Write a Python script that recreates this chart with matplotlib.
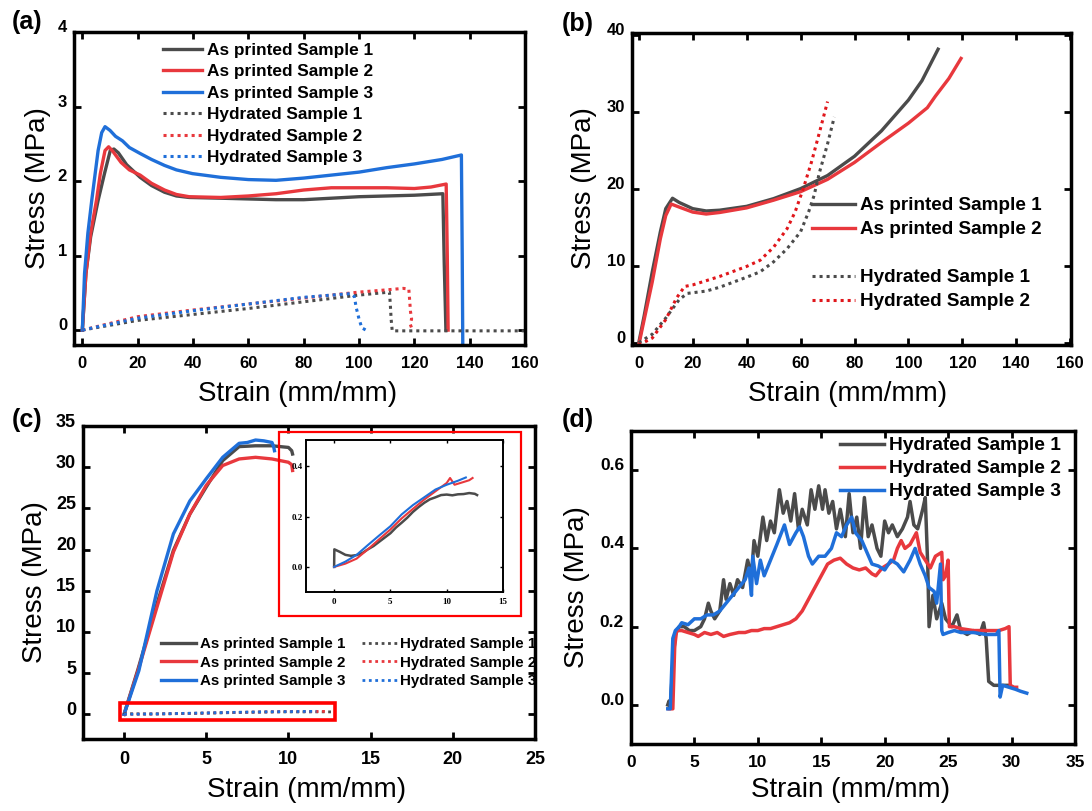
import matplotlib
matplotlib.use('Agg')
import matplotlib.pyplot as plt
import matplotlib.transforms as mtransforms
from matplotlib.patches import Rectangle

plt.rcParams['font.family'] = ['Liberation Sans', 'DejaVu Sans']

GREY = '#4b4b4b'
RED = '#e8383d'
BLUE = '#1f6fd9'
DOT = (1, 1.3)

# ---- panel (a): as printed vs hydrated, low range
a_x1 = [0, 1.3, 3, 5.7, 8, 10.1, 11.4, 13, 16, 20.9, 25, 29.7, 34, 38.6, 50, 60, 70, 80, 90, 100, 110, 120, 130.3, 130.8, 131.4]
a_y1 = [0, 0.76, 1.25, 1.74, 2.1, 2.41, 2.43, 2.38, 2.22, 2.05, 1.94, 1.85, 1.80, 1.78, 1.77, 1.76, 1.75, 1.75, 1.77, 1.79, 1.80, 1.81, 1.83, 0.9, 0]
a_x2 = [0, 1.3, 3, 5.1, 6.5, 8.2, 9.5, 11, 14, 17, 20.9, 25, 29.7, 34, 38.6, 50, 60, 70, 80, 90, 100, 110, 120, 126, 131.5, 131.9, 132.2]
a_y2 = [0, 0.76, 1.3, 1.74, 2.1, 2.41, 2.46, 2.40, 2.25, 2.15, 2.08, 1.97, 1.88, 1.82, 1.79, 1.78, 1.80, 1.83, 1.88, 1.91, 1.91, 1.91, 1.90, 1.92, 1.96, 1.0, 0]
a_x3 = [0, 0.8, 2, 3.4, 5.7, 7, 8.2, 10, 12, 14.5, 17, 20.9, 25, 29.7, 34, 39.8, 50, 60, 70, 80, 90, 100, 110, 120, 130, 137, 137.3, 137.5]
a_y3 = [0, 0.76, 1.3, 1.74, 2.41, 2.65, 2.73, 2.68, 2.60, 2.54, 2.45, 2.37, 2.29, 2.21, 2.15, 2.10, 2.05, 2.02, 2.01, 2.04, 2.08, 2.12, 2.18, 2.23, 2.29, 2.35, 1.0, -0.2]
ah_x1 = [0, 20, 40, 60, 80, 100, 111, 111.3, 111.6, 112, 120, 130, 140, 150, 160]
ah_y1 = [0, 0.13, 0.21, 0.29, 0.38, 0.47, 0.51, 0.35, 0.15, -0.01, -0.01, -0.01, -0.01, -0.01, -0.01]
ah_x2 = [0, 20, 40, 60, 80, 100, 110, 116, 118, 118.3, 118.6, 119, 118.5, 119, 119.3]
ah_y2 = [0, 0.18, 0.27, 0.35, 0.43, 0.51, 0.54, 0.56, 0.55, 0.4, 0.25, 0.15, 0.08, 0.03, 0]
ah_x3 = [0, 20, 40, 60, 80, 97, 98.3, 99, 100, 101, 102.5, 103.5]
ah_y3 = [0, 0.16, 0.26, 0.35, 0.44, 0.49, 0.45, 0.3, 0.15, 0.03, 0.0, 0.0]

# ---- panel (b)
b_x1 = [0, 2, 5, 8, 10, 12.5, 15, 20, 25, 30, 40, 50, 60, 70, 80, 90, 100, 105, 111]
b_y1 = [0, 3.5, 9.2, 14.4, 17.4, 18.75, 18.2, 17.4, 17.1, 17.2, 17.7, 18.7, 20.0, 21.7, 24.2, 27.5, 31.5, 34.0, 38.1]
b_x2 = [0, 2, 5, 8, 10, 12, 15, 20, 25, 30, 40, 50, 60, 70, 80, 90, 100, 107, 110, 115, 119.5]
b_y2 = [-0.3, 3.0, 7.9, 13.5, 16.5, 18.0, 17.6, 16.95, 16.7, 16.9, 17.5, 18.5, 19.6, 21.2, 23.4, 26.0, 28.5, 30.5, 32.0, 34.3, 36.9]
bh_x1 = [0, 5, 10, 15, 18, 25, 30, 40, 45, 50, 55, 60, 63, 65, 67, 70, 72.5]
bh_y1 = [0, 1.1, 3.2, 5.6, 6.4, 6.7, 7.2, 8.5, 9.2, 10.5, 12.2, 14.4, 17.0, 19.1, 22.1, 25.8, 29.3]
bh_x2 = [0, 5, 10, 14, 17, 20, 30, 40, 45, 50, 55, 58, 61, 64, 67, 70]
bh_y2 = [-0.3, 0.6, 3.0, 5.8, 7.3, 7.5, 8.6, 9.9, 10.7, 12.4, 14.8, 17.0, 20.0, 23.4, 27.3, 31.3]

# ---- panel (c)
c_x1 = [0, 0.85, 2, 3, 4, 5, 6, 7, 8, 9, 10, 10.2, 10.25]
c_y1 = [0, 5.5, 13.4, 19.9, 24.3, 27.6, 30.8, 32.5, 32.6, 32.6, 32.4, 32.0, 31.6]
c_x2 = [0, 0.85, 2, 3, 4, 5, 6, 7, 8, 9, 10, 10.2, 10.25]
c_y2 = [0, 5.3, 13.0, 19.7, 24.3, 27.8, 30.2, 31.0, 31.2, 31.0, 30.6, 30.3, 29.6]
c_x3 = [0, 0.9, 2, 3, 4, 5, 6, 7, 7.5, 8, 8.5, 9, 9.1, 9.15]
c_y3 = [0, 5.3, 15, 21.9, 25.9, 28.6, 31.2, 32.9, 33.0, 33.3, 33.2, 33.0, 32.5, 32.0]
ch_x1 = [0, 0.02, 0.5, 1, 1.5, 2, 2.5, 3, 3.5, 4, 4.5, 5, 5.5, 6, 6.5, 7, 7.5, 8, 8.5, 9, 9.5, 10, 10.5, 11, 11.5, 12, 12.5, 12.7]
ch_y1 = [0, 0.07, 0.06, 0.048, 0.044, 0.047, 0.055, 0.07, 0.083, 0.10, 0.117, 0.134, 0.157, 0.176, 0.196, 0.219, 0.238, 0.255, 0.269, 0.277, 0.286, 0.288, 0.285, 0.289, 0.29, 0.294, 0.291, 0.286]
ch_x2 = [0, 1, 2, 3, 4, 5, 6, 7, 8, 9, 10, 10.3, 10.7, 11.5, 12, 12.3]
ch_y2 = [0, 0.013, 0.033, 0.07, 0.11, 0.149, 0.193, 0.231, 0.268, 0.301, 0.334, 0.354, 0.327, 0.338, 0.345, 0.354]
ch_x3 = [0, 1, 2, 3, 4, 5, 6, 7, 8, 9, 10, 11, 11.7]
ch_y3 = [0, 0.021, 0.048, 0.087, 0.125, 0.162, 0.209, 0.246, 0.277, 0.308, 0.327, 0.343, 0.356]

# ---- panel (d): hydrated samples
d_x1 = [2.9, 3.0, 3.1, 3.3, 3.5, 3.8, 4.2, 4.6, 5.0, 5.5, 5.8, 6.1, 6.3, 6.6, 7.0, 7.3, 7.5, 7.8, 8.1, 8.4, 8.8,
        9.2, 9.5, 9.7, 10.0, 10.4, 10.7, 11.0, 11.3, 11.7, 12.0, 12.3, 12.6, 12.9, 13.2, 13.5, 13.9, 14.2, 14.5,
        14.8, 15.1, 15.3, 15.6, 15.9, 16.2, 16.5, 16.9, 17.2, 17.5, 17.8, 18.1, 18.4, 18.7, 19.0, 19.4, 19.7,
        20.0, 20.3, 20.6, 21.0, 21.4, 21.8, 22.0, 22.3, 22.6, 23.0, 23.2, 23.4, 23.5, 23.8, 24.1, 24.5, 24.8,
        25.3, 25.7, 26.0, 26.5, 27.0, 27.5, 27.8, 28.0, 28.2, 28.6, 29.0, 29.5, 29.8]
d_y1 = [0.0, 0.01, -0.005, 0.10, 0.18, 0.20, 0.20, 0.19, 0.19, 0.20, 0.22, 0.26, 0.24, 0.22, 0.24, 0.32, 0.27, 0.31,
        0.28, 0.32, 0.30, 0.37, 0.33, 0.42, 0.38, 0.48, 0.42, 0.47, 0.44, 0.55, 0.49, 0.52, 0.47, 0.54, 0.45, 0.50,
        0.46, 0.55, 0.50, 0.56, 0.50, 0.55, 0.49, 0.52, 0.45, 0.50, 0.43, 0.54, 0.44, 0.48, 0.40, 0.53, 0.43, 0.46,
        0.40, 0.38, 0.47, 0.44, 0.46, 0.43, 0.45, 0.48, 0.52, 0.46, 0.45, 0.50, 0.53, 0.35, 0.20, 0.28, 0.22, 0.26,
        0.22, 0.20, 0.23, 0.19, 0.18, 0.19, 0.18, 0.21, 0.17, 0.06, 0.05, 0.05, 0.05, 0.05]
d_x2 = [3.0, 3.3, 3.45, 3.6, 4.0, 4.5, 5.0, 5.3, 5.8, 6.3, 6.8, 7.3, 7.8, 8.5, 9.0, 9.5, 10.0, 10.5, 11.0, 11.5,
        12.0, 12.5, 13.0, 13.5, 14.0, 14.5, 15.0, 15.5, 16.0, 16.5, 17.0, 17.5, 18.0, 18.5, 19.0, 19.3, 19.8, 20.3,
        20.7, 21.0, 21.3, 21.6, 22.0, 22.5, 22.8, 23.2, 23.6, 24.0, 24.5, 24.6, 24.8, 25.0, 25.1, 25.5, 26.0, 27.0,
        28.0, 29.0, 29.5, 29.8, 29.9, 30.2, 30.4]
d_y2 = [-0.01, -0.01, 0.15, 0.19, 0.19, 0.185, 0.18, 0.175, 0.185, 0.18, 0.185, 0.175, 0.18, 0.185, 0.185, 0.19,
        0.19, 0.195, 0.195, 0.2, 0.205, 0.21, 0.22, 0.24, 0.27, 0.30, 0.33, 0.36, 0.37, 0.375, 0.36, 0.35, 0.345,
        0.35, 0.335, 0.33, 0.35, 0.36, 0.37, 0.40, 0.42, 0.40, 0.41, 0.44, 0.39, 0.37, 0.35, 0.38, 0.39, 0.32,
        0.33, 0.37, 0.20, 0.20, 0.195, 0.19, 0.19, 0.19, 0.195, 0.20, 0.05, 0.045, 0.045]
d_x3 = [2.9, 3.1, 3.3, 3.5, 3.8, 4.0, 4.5, 5.0, 5.5, 6.0, 6.5, 7.0, 7.5, 8.0, 8.5, 9.0, 9.3, 9.5, 9.6, 9.9, 10.2,
        10.5, 11.0, 11.5, 12.1, 12.5, 13.0, 13.3, 13.6, 14.0, 14.3, 14.8, 15.3, 15.8, 16.2, 16.6, 17.0, 17.4, 17.7,
        18.2, 18.6, 19.0, 19.5, 20.0, 20.5, 21.0, 21.5, 22.0, 22.4, 22.8, 23.2, 23.5, 23.9, 24.1, 24.4, 24.5, 24.6,
        25.0, 25.5, 26.0, 27.0, 28.0, 28.8, 29.0, 29.1, 29.3, 29.8, 30.3, 30.7, 31.2]
d_y3 = [-0.01, -0.01, 0.17, 0.19, 0.20, 0.21, 0.205, 0.22, 0.22, 0.23, 0.23, 0.24, 0.26, 0.28, 0.30, 0.32, 0.35,
        0.28, 0.38, 0.31, 0.37, 0.33, 0.37, 0.41, 0.46, 0.41, 0.44, 0.455, 0.43, 0.38, 0.36, 0.38, 0.38, 0.40,
        0.44, 0.43, 0.46, 0.48, 0.44, 0.42, 0.39, 0.36, 0.355, 0.345, 0.37, 0.36, 0.34, 0.37, 0.40, 0.36, 0.33,
        0.30, 0.29, 0.26, 0.36, 0.19, 0.18, 0.185, 0.19, 0.185, 0.185, 0.18, 0.18, 0.19, 0.02, 0.05, 0.045, 0.04,
        0.035, 0.03]

fig = plt.figure(figsize=(10.92, 8.11), dpi=100)


def style(ax, xt, yt, size, xpad=8, ypad=5, ylabels=None, font=None, lw=2.5, tl=5, tw=2, yshift=6):
    ax.set_xticks(xt)
    ax.set_yticks(yt)
    if ylabels is not None:
        ax.set_yticklabels(ylabels)
    ax.tick_params(direction='in', top=True, right=True, length=tl, width=tw, labelsize=size)
    ax.tick_params(axis='x', pad=xpad)
    ax.tick_params(axis='y', pad=ypad)
    for s in ax.spines.values():
        s.set_linewidth(lw)
    for lbl in ax.get_xticklabels() + ax.get_yticklabels():
        lbl.set_fontweight('bold')
        if font:
            lbl.set_family(font)
    off = mtransforms.ScaledTranslation(0, yshift / 100, fig.dpi_scale_trans)
    for lbl in ax.get_yticklabels():
        lbl.set_transform(lbl.get_transform() + off)


def labels(ax, xl, yl):
    ax.set_xlabel('Strain (mm/mm)', fontsize=20)
    ax.set_ylabel('Stress (MPa)', fontsize=20)
    ax.xaxis.set_label_coords(*xl)
    ax.yaxis.set_label_coords(*yl)


# (a)
ax = fig.add_axes([0.0678, 0.5746, 0.4130, 0.3859])
ax.plot(a_x1, a_y1, color=GREY, lw=2.4, label='As printed Sample 1')
ax.plot(a_x2, a_y2, color=RED, lw=2.4, label='As printed Sample 2')
ax.plot(a_x3, a_y3, color=BLUE, lw=2.4, label='As printed Sample 3')
ax.plot(ah_x1, ah_y1, color=GREY, lw=2.2, ls=(0, DOT), label='Hydrated Sample 1')
ax.plot(ah_x2, ah_y2, color=RED, lw=2.2, ls=(0, DOT), label='Hydrated Sample 2')
ax.plot(ah_x3, ah_y3, color=BLUE, lw=2.2, ls=(0, DOT), label='Hydrated Sample 3')
ax.set_xlim(-3, 160)
ax.set_ylim(-0.2, 4.0)
style(ax, range(0, 161, 20), range(0, 5), 12)
labels(ax, (0.496, -0.115), (-0.051, 0.5))
ax.legend(loc='upper left', bbox_to_anchor=(0.197, 0.965), frameon=False, borderpad=0, borderaxespad=0,
          handlelength=2.3, handletextpad=0.25, labelspacing=0.37, prop={'weight': 'bold', 'size': 12.4})

# (b)
ax = fig.add_axes([0.5788, 0.5746, 0.4020, 0.3847])
ax.plot(b_x1, b_y1, color=GREY, lw=2.4, label='As printed Sample 1')
ax.plot(b_x2, b_y2, color=RED, lw=2.4, label='As printed Sample 2')
ax.plot([], [], color='none', label=' ')
ax.plot(bh_x1, bh_y1, color=GREY, lw=2.2, ls=(0, DOT), label='Hydrated Sample 1')
ax.plot(bh_x2, bh_y2, color='#e0161b', lw=2.2, ls=(0, DOT), label='Hydrated Sample 2')
ax.set_xlim(-2.5, 160.3)
ax.set_ylim(-0.3, 40.2)
style(ax, range(0, 161, 20), range(0, 41, 10), 12)
labels(ax, (0.492, -0.115), (-0.080, 0.503))
ax.legend(loc='upper left', bbox_to_anchor=(0.41, 0.474), frameon=False, borderpad=0, borderaxespad=0,
          handlelength=2.3, handletextpad=0.25, labelspacing=0.36, prop={'weight': 'bold', 'size': 13.6})

# (c)
ax = fig.add_axes([0.0760, 0.0888, 0.4139, 0.3859])
ax.plot(c_x1, c_y1, color=GREY, lw=2.4, label='As printed Sample 1')
ax.plot(c_x2, c_y2, color=RED, lw=2.4, label='As printed Sample 2')
ax.plot(c_x3, c_y3, color=BLUE, lw=2.4, label='As printed Sample 3')
ax.plot(ch_x1, ch_y1, color=GREY, lw=2.0, ls=(0, DOT), label='Hydrated Sample 1')
ax.plot(ch_x2, ch_y2, color=RED, lw=2.0, ls=(0, DOT), label='Hydrated Sample 2')
ax.plot(ch_x3, ch_y3, color=BLUE, lw=2.0, ls=(0, DOT), label='Hydrated Sample 3')
ax.add_patch(Rectangle((-0.24, -0.73), 13.09, 2.13, fill=False, edgecolor='#ff0000', lw=2.6, zorder=5))
ax.set_xlim(-2.5, 25)
ax.set_ylim(-3, 35)
style(ax, range(0, 26, 5), range(0, 36, 5), 13, xpad=9)
labels(ax, (0.494, -0.121), (-0.077, 0.5))
ax.legend(loc='upper left', bbox_to_anchor=(0.173, 0.326), ncol=2, frameon=False, borderpad=0, borderaxespad=0,
          handlelength=2.3, handletextpad=0.25, labelspacing=0.31, columnspacing=1.1,
          prop={'weight': 'bold', 'size': 10.9})

# red frame around the inset
fig.patches.append(Rectangle((0.2555, 0.2404), 0.2216, 0.2269, transform=fig.transFigure, fill=False,
                             edgecolor='#ff0000', lw=1.6, zorder=3))

ins = fig.add_axes([0.2802, 0.2700, 0.1804, 0.1874])
ins.plot(ch_x1, ch_y1, color=GREY, lw=1.8)
ins.plot(ch_x2, ch_y2, color=RED, lw=1.5)
ins.plot(ch_x3, ch_y3, color=BLUE, lw=1.5)
ins.set_xlim(-2.5, 15)
ins.set_ylim(-0.1, 0.505)
style(ins, [0, 5, 10, 15], [0.0, 0.2, 0.4], 6.5, xpad=4, ypad=2, ylabels=['0.0', '0.2', '0.4'],
      font='Liberation Serif', lw=1.4, tl=2.5, tw=1, yshift=0)

# (d)
ax = fig.add_axes([0.5778, 0.0826, 0.4066, 0.3859])
ax.plot(d_x1, d_y1, color=GREY, lw=2.5, label='Hydrated Sample 1')
ax.plot(d_x2, d_y2, color=RED, lw=2.5, label='Hydrated Sample 2')
ax.plot(d_x3, d_y3, color=BLUE, lw=2.5, label='Hydrated Sample 3')
ax.set_xlim(0, 35)
ax.set_ylim(-0.1, 0.7)
style(ax, range(0, 36, 5), [0.0, 0.2, 0.4, 0.6], 12.5, ylabels=['0.0', '0.2', '0.4', '0.6'])
labels(ax, (0.494, -0.105), (-0.092, 0.5))
ax.legend(loc='upper left', bbox_to_anchor=(0.47, 0.981), frameon=False, borderpad=0, borderaxespad=0,
          handlelength=2.3, handletextpad=0.25, labelspacing=0.29, prop={'weight': 'bold', 'size': 13.8})

for txt, x, y in [('(a)', 27, 22), ('(b)', 578, 24), ('(c)', 27, 420), ('(d)', 578, 420)]:
    fig.text(x / 1092, 1 - y / 811, txt, fontsize=18, fontweight='bold', ha='center', va='center')

fig.savefig('out.png', dpi=100)
